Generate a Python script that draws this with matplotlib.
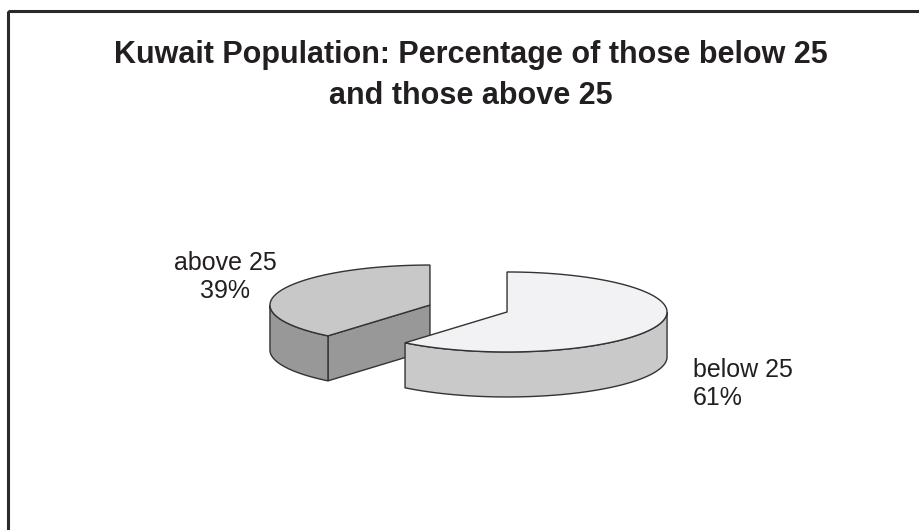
import numpy as np
import matplotlib
matplotlib.use('Agg')
import matplotlib.pyplot as plt
from matplotlib.patches import Polygon, Rectangle

# Data
labels = ['below 25', 'above 25']
values = [61, 39]
top_colors = ['#f2f2f4', '#c8c8c8']
side_colors = ['#c9c9c9', '#989898']

title_lines = ['Kuwait Population: Percentage of those below 25', 'and those above 25']

# Pie geometry (pixel space)
cx0, cy0 = 468.5, 308.5
rx, ry = 160, 40
depth = 45
explode = 0.256
edge = '#333333'

plt.rcParams['font.family'] = ['Liberation Sans', 'DejaVu Sans']

fig = plt.figure(figsize=(9.19, 5.30), dpi=100)
ax = fig.add_axes([0, 0, 1, 1])
ax.set_xlim(0, 919)
ax.set_ylim(530, 0)
ax.axis('off')

# Chart-area border
ax.add_patch(Rectangle((7.5, 10.5), 1000, 1000, fill=False, ec='#2a2a2a', lw=2.2))


def pt(cx, cy, th, dz=0):
    return (cx + rx * np.sin(th), cy - ry * np.cos(th) + dz)


def arc(cx, cy, t1, t2, dz=0, n=80):
    ts = np.linspace(t1, t2, n)
    return [pt(cx, cy, t, dz) for t in ts]


fracs = np.array(values) / sum(values)
bounds = np.concatenate([[0], np.cumsum(fracs)]) * 2 * np.pi
slices = []
for i in range(len(values)):
    t1, t2 = bounds[i], bounds[i + 1]
    mid = (t1 + t2) / 2
    cx = cx0 + rx * explode * np.sin(mid)
    cy = cy0 - ry * explode * np.cos(mid)
    slices.append((i, t1, t2, cx, cy))

# paint back slices first (smaller screen y of centre)
for i, t1, t2, cx, cy in sorted(slices, key=lambda s: s[4]):
    # radial face at start edge
    if np.sin(t1) < -1e-6:
        p = pt(cx, cy, t1)
        face = [(cx, cy), p, (p[0], p[1] + depth), (cx, cy + depth)]
        ax.add_patch(Polygon(face, fc=side_colors[i], ec=edge, lw=1, zorder=2))
    # radial face at end edge
    if np.sin(t2) > 1e-6:
        p = pt(cx, cy, t2)
        face = [(cx, cy), p, (p[0], p[1] + depth), (cx, cy + depth)]
        ax.add_patch(Polygon(face, fc=side_colors[i], ec=edge, lw=1, zorder=2))
    # curved outer wall, front half only
    a1, a2 = max(t1, np.pi / 2), min(t2, 1.5 * np.pi)
    if a2 > a1:
        wall = arc(cx, cy, a1, a2) + arc(cx, cy, a2, a1, depth)
        ax.add_patch(Polygon(wall, fc=side_colors[i], ec=edge, lw=1, zorder=2))
    # top face
    top = [(cx, cy)] + arc(cx, cy, t1, t2)
    ax.add_patch(Polygon(top, fc=top_colors[i], ec=edge, lw=1, zorder=2))

# Data labels
txt = dict(fontsize=18, color='#231f20', va='baseline')
ax.text(225, 270, f'{labels[1]}', ha='center', **txt)
ax.text(225, 298, f'{values[1]}%', ha='center', **txt)
ax.text(693, 377, f'{labels[0]}', ha='left', **txt)
ax.text(693, 405, f'{values[0]}%', ha='left', **txt)

# Title
ax.text(471, 63, title_lines[0], ha='center', va='baseline', fontsize=22,
        fontweight='bold', color='#231f20')
ax.text(471, 104, title_lines[1], ha='center', va='baseline', fontsize=22,
        fontweight='bold', color='#231f20')

fig.savefig('out.png', dpi=100)
